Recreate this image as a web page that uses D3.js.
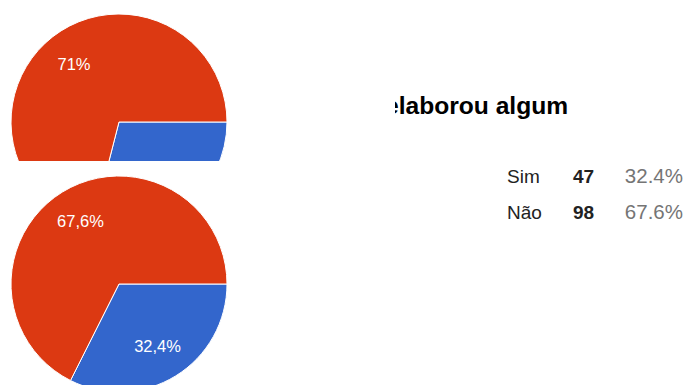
<!DOCTYPE html>
<html>
<head>
<meta charset="utf-8">
<script src="https://cdn.jsdelivr.net/npm/d3@7"></script>
<style>
  body { margin: 0; background: #fff; }
  text { font-family: "Liberation Sans", Arial, sans-serif; }
</style>
</head>
<body>
<div id="chart"></div>
<script>
// data
var categories = ["Sim", "Não"];
var colors = ["#3366cc", "#dc3912"];
var topShares = [29, 71];          // upper (cropped) pie, percent
var bottomCounts = [47, 98];       // lower pie, responses
var titleText = "elaborou algum";

var svgWidth = 686;
var svgHeight = 385;

var svg = d3.select("#chart")
  .append("svg")
  .attr("width", svgWidth)
  .attr("height", svgHeight);

var ptBR = d3.formatLocale({decimal: ",", thousands: ".", grouping: [3], currency: ["R$", ""]});
var pieFmt = ptBR.format(".3~p");
var tableFmt = d3.format(".1%");

var radius = 108;
var pie = d3.pie().sort(null).value(d => d)
  .startAngle(Math.PI / 2).endAngle(Math.PI / 2 + 2 * Math.PI);
var arc = d3.arc().innerRadius(0).outerRadius(radius);
var labelArc = d3.arc().innerRadius(radius * 0.68).outerRadius(radius * 0.68);

var defs = svg.append("defs");
defs.append("clipPath").attr("id", "clipTop")
  .append("rect").attr("x", 0).attr("y", 0).attr("width", 300).attr("height", 161);
defs.append("clipPath").attr("id", "clipBottom")
  .append("rect").attr("x", 0).attr("y", 161).attr("width", 300).attr("height", 224);
defs.append("clipPath").attr("id", "clipTitle")
  .append("rect").attr("x", 395).attr("y", 0).attr("width", 291).attr("height", 150);

function drawPie(values, cx, cy, clipId) {
  var total = d3.sum(values);
  var g = svg.append("g").attr("clip-path", `url(#${clipId})`)
    .append("g").attr("transform", `translate(${cx}, ${cy})`);

  var slices = pie(values);
  g.selectAll("path")
    .data(slices)
    .enter()
    .append("path")
    .attr("d", arc)
    .attr("fill", (d, i) => colors[i])
    .attr("stroke", "#fff")
    .attr("stroke-width", 1);

  g.selectAll("text")
    .data(slices)
    .enter()
    .append("text")
    .attr("transform", d => `translate(${labelArc.centroid(d)})`)
    .attr("dy", "0.36em")
    .attr("text-anchor", "middle")
    .attr("fill", "#fff")
    .attr("font-size", "16.5px")
    .text(d => pieFmt(d.value / total));
}

drawPie(topShares, 119, 122, "clipTop");
drawPie(bottomCounts, 119, 284, "clipBottom");

// question title, cut off on the left
svg.append("g").attr("clip-path", "url(#clipTitle)")
  .append("text")
  .attr("x", 385)
  .attr("y", 114)
  .attr("font-size", "24.6px")
  .attr("font-weight", "bold")
  .attr("fill", "#000")
  .text(titleText);

// summary table
var total = d3.sum(bottomCounts);
var rows = svg.selectAll(".row")
  .data(categories)
  .enter()
  .append("g")
  .attr("transform", (d, i) => `translate(0, ${183 + i * 36})`);

rows.append("text")
  .attr("x", 507)
  .attr("font-size", "19px")
  .attr("fill", "#222")
  .text(d => d);

rows.append("text")
  .attr("x", 573)
  .attr("font-size", "19px")
  .attr("font-weight", "bold")
  .attr("fill", "#222")
  .text((d, i) => bottomCounts[i]);

rows.append("text")
  .attr("x", 683)
  .attr("text-anchor", "end")
  .attr("font-size", "20.5px")
  .attr("fill", "#757575")
  .text((d, i) => tableFmt(bottomCounts[i] / total));
</script>
</body>
</html>
